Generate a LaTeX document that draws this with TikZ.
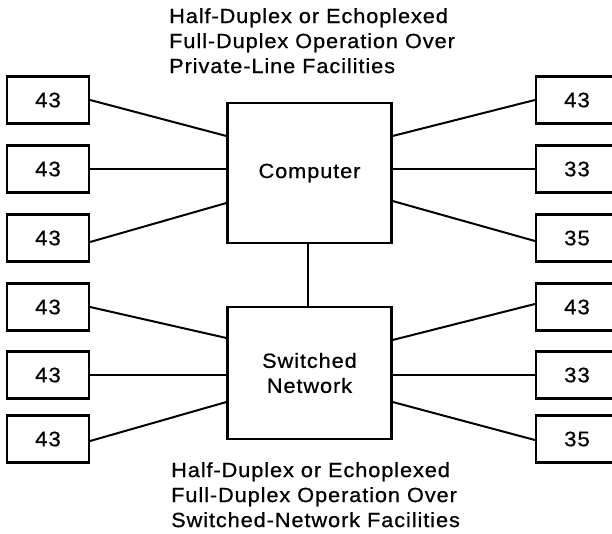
\documentclass[tikz,border=0pt]{standalone}
\usepackage{fontspec}
\setmainfont{Liberation Sans}[FakeStretch=1.06,LetterSpace=4.5,FakeBold=0.7]
\usetikzlibrary{calc}
\begin{document}
\begin{tikzpicture}[x=1pt,y=-1pt,
  txt/.style={font=\fontsize{20.5}{25}\selectfont, inner sep=0pt, align=left},
  term/.style={draw, line width=2.2pt, minimum width=82pt, minimum height=47pt, inner sep=0pt, font=\fontsize{21}{25}\selectfont},
  hub/.style={draw, line width=2.2pt, minimum width=164pt, inner sep=0pt, align=center, font=\fontsize{20.5}{25}\selectfont},
  wire/.style={line width=2pt}]
\useasboundingbox (0,0) rectangle (612,534);
\fill[white] (0,0) rectangle (612,534);
\clip (0,0) rectangle (612,534);

% captions
\node[txt, anchor=north west] (top) at (169,8) {Half-Duplex or Echoplexed\\Full-Duplex Operation Over\\Private-Line Facilities};
\node[txt, anchor=north west] (bot) at (171,462) {Half-Duplex or Echoplexed\\Full-Duplex Operation Over\\Switched-Network Facilities};

% hubs
\node[hub, minimum height=140pt] (C) at (309.5,173) {Computer};
\node[hub, minimum height=132pt] (S) at (309.5,373) {Switched\\Network};

% left terminals
\node[term] (l1) at (48,100) {43};
\node[term] (l2) at (48,169) {43};
\node[term] (l3) at (48,238) {43};
\node[term] (l4) at (48,307) {43};
\node[term] (l5) at (48,375) {43};
\node[term] (l6) at (48,439) {43};

% right terminals
\node[term] (r1) at (577,100) {43};
\node[term] (r2) at (577,169) {33};
\node[term] (r3) at (577,238) {35};
\node[term] (r4) at (577,307) {43};
\node[term] (r5) at (577,375) {33};
\node[term] (r6) at (577,439) {35};

% connectors to computer
\draw[wire] (l1.east) -- ($(C.west)+(0,-37)$);
\draw[wire] (l2.east) -- (l2.east -| C.west);
\draw[wire] ($(l3.east)+(0,4)$) -- ($(C.west)+(0,30)$);
\draw[wire] (r1.west) -- ($(C.east)+(0,-37)$);
\draw[wire] (r2.west) -- (r2.west -| C.east);
\draw[wire] ($(r3.west)+(0,3)$) -- ($(C.east)+(0,28)$);

% connectors to switched network
\draw[wire] (l4.east) -- ($(S.west)+(0,-35)$);
\draw[wire] (l5.east) -- (l5.east -| S.west);
\draw[wire] ($(l6.east)+(0,2)$) -- ($(S.west)+(0,29)$);
\draw[wire] ($(r4.west)+(0,-3)$) -- ($(S.east)+(0,-33)$);
\draw[wire] (r5.west) -- (r5.west -| S.east);
\draw[wire] ($(r6.west)+(0,1)$) -- ($(S.east)+(0,29)$);

% computer to network
\draw[wire] ($(C.south)+(-2,0)$) -- ($(S.north)+(-2,0)$);
\end{tikzpicture}
\end{document}
